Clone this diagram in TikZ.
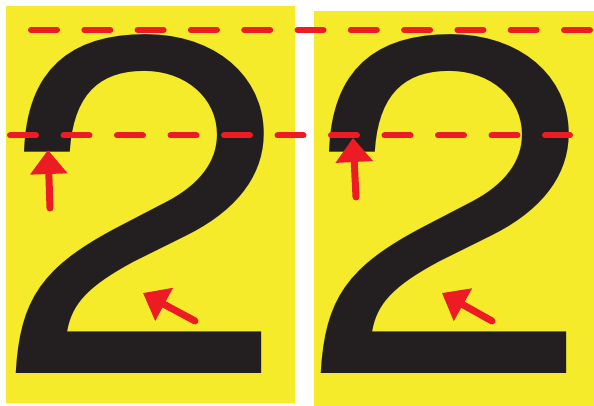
\documentclass[tikz,border=0pt]{standalone}
\usepackage{fontspec}
\newfontfamily\heros{TeX Gyre Heros}
\usetikzlibrary{arrows.meta}
\definecolor{sigyellow}{HTML}{F5EB2A}
\definecolor{sigred}{HTML}{ED1C24}
\definecolor{glyphblack}{HTML}{231F20}
\tikzset{
  panel/.style={fill=sigyellow, draw=none},
  bigtwo/.style={inner sep=0pt, outer sep=0pt, anchor=base west, text=glyphblack},
  guide/.style={draw=sigred, line width=6pt, line cap=round},
  pointer/.style={draw=sigred, line width=7pt, line cap=round,
    -{Triangle[length=24pt,width=36pt]}},
}
\newcommand{\twoglyph}{\makebox[246pt][l]{\kern-17.7pt\scalebox{1.088}[1]{\heros\fontsize{478}{478}\selectfont 2}}}
\begin{document}
\begin{tikzpicture}[x=1pt,y=-1pt]
\useasboundingbox (0,0) rectangle (594,406);
\fill[white] (0,0) rectangle (594,406);
% panels
\fill[panel] (6,6) rectangle (295,403);
\fill[panel] (314,11) rectangle (594,406);
% glyphs
\node[bigtwo] (twoL) at (16,373) {\twoglyph};
\node[bigtwo] (twoR) at (321.5,373) {\twoglyph};
% guide lines
\coordinate (topA) at (31,30);
\coordinate (topB) at (592,30);
\coordinate (midA) at (10,135.5);
\coordinate (midB) at (570,135.5);
\draw[guide, dash pattern=on 26pt off 27.3pt] (topA) -- (topB);
\draw[guide, dash pattern=on 26pt off 27.5pt] (midA) -- (midB);
% arrows
\coordinate (aLtail) at (50,208);
\coordinate (aLtip) at (48,150);
\coordinate (bLtail) at (195,321);
\coordinate (bLtip) at (143,293);
\coordinate (aRtail) at (356,197);
\coordinate (aRtip) at (353,138);
\coordinate (bRtail) at (492,321);
\coordinate (bRtip) at (442,293);
\draw[pointer] (aLtail) -- (aLtip);
\draw[pointer] (bLtail) -- (bLtip);
\draw[pointer] (aRtail) -- (aRtip);
\draw[pointer] (bRtail) -- (bRtip);
\end{tikzpicture}
\end{document}
